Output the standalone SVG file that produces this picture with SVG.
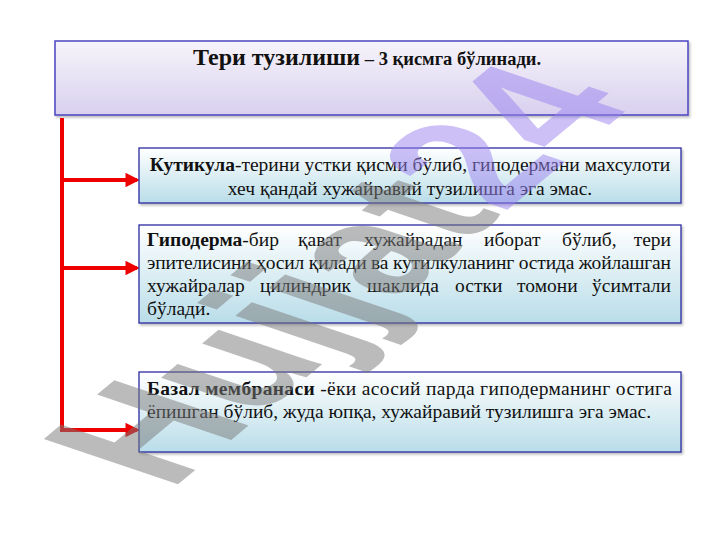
<svg xmlns="http://www.w3.org/2000/svg" width="720" height="540" viewBox="0 0 720 540">
  <defs>
    <linearGradient id="gHead" x1="0" y1="0" x2="0" y2="1">
      <stop offset="0" stop-color="#f7f4fb"/>
      <stop offset="1" stop-color="#d8d0ee"/>
    </linearGradient>
    <linearGradient id="gBox" x1="0" y1="0" x2="0" y2="1">
      <stop offset="0" stop-color="#ffffff"/>
      <stop offset="1" stop-color="#b9dde9"/>
    </linearGradient>
    <marker id="ah" viewBox="0 0 10 10" refX="8" refY="5" markerWidth="3.6" markerHeight="3.6" markerUnits="strokeWidth" orient="auto">
      <path d="M0,0 L10,5 L0,10 z" fill="#ee0000"/>
    </marker>
    <filter id="sh" x="-5%" y="-10%" width="110%" height="130%">
      <feDropShadow dx="1.5" dy="2" stdDeviation="1.2" flood-color="#000" flood-opacity="0.25"/>
    </filter>
  </defs>
  <style>
    .box { fill: url(#gBox); stroke: #2a2aa0; stroke-width: 1.3; filter: url(#sh); }
    .head { fill: url(#gHead); stroke: #4a44c0; stroke-width: 1.5; filter: url(#sh); }
    .t { font-family: "Liberation Serif", "Times New Roman", serif; font-size: 19.5px; fill: #111; }
    .b { font-weight: bold; }
    .conn { stroke: #ee0000; stroke-width: 4; fill: none; }
    .wm { font-family: "Liberation Sans", Arial, sans-serif; font-weight: bold; font-size: 100px; }
  </style>
  <rect width="720" height="540" fill="#ffffff"/>

  <g id="header">
    <rect class="head" x="55" y="41" width="633" height="74"/>
    <text x="367" y="65" text-anchor="middle" font-family="Liberation Serif, serif" font-weight="bold" fill="#111"><tspan font-size="24">Тери тузилиши</tspan><tspan font-size="18.5"> – 3 қисмга бўлинади.</tspan></text>
  </g>

  <g id="connectors">
    <path class="conn" d="M62,118 V432"/>
    <path class="conn" d="M60,180 H137" marker-end="url(#ah)"/>
    <path class="conn" d="M60,268 H137" marker-end="url(#ah)"/>
    <path class="conn" d="M60,430 H137" marker-end="url(#ah)"/>
  </g>

  <g id="kutikula">
    <rect class="box" x="139" y="148" width="542" height="55"/>
    <text class="t" x="410" y="171" text-anchor="middle"><tspan class="b">Кутикула</tspan>-терини устки қисми бўлиб, гиподермани махсулоти</text>
    <text class="t" x="410" y="195" text-anchor="middle">хеч қандай хужайравий тузилишга эга эмас.</text>
  </g>

  <g id="gipoderma">
    <rect class="box" x="139" y="225" width="542" height="98"/>
    <text class="t" y="246"><tspan x="147"><tspan class="b">Гиподерма</tspan>-бир</tspan><tspan x="298">қават</tspan><tspan x="364">хужайрадан</tspan><tspan x="484">иборат</tspan><tspan x="562">бўлиб,</tspan><tspan x="671" text-anchor="end">тери</tspan></text>
    <text class="t" x="147" y="269" textLength="524" lengthAdjust="spacing">эпителисини ҳосил қилади ва кутилкуланинг остида жойлашган</text>
    <text class="t" y="292"><tspan x="147">хужайралар</tspan><tspan x="260">цилиндрик</tspan><tspan x="367">шаклида</tspan><tspan x="455">остки</tspan><tspan x="517">томони</tspan><tspan x="671" text-anchor="end">ўсимтали</tspan></text>
    <text class="t" x="147" y="315">бўлади.</text>
  </g>

  <g id="bazal">
    <rect class="box" x="139" y="372" width="542" height="80"/>
    <text class="t" x="147" y="395" textLength="525" lengthAdjust="spacing"><tspan class="b">Базал мембранаси</tspan> -ёки асосий парда гиподерманинг остига</text>
    <text class="t" x="147" y="418">ёпишган бўлиб, жуда юпқа, хужайравий тузилишга эга эмас.</text>
  </g>

  <g id="watermark" opacity="0.5">
    <text class="wm" transform="matrix(1.2,-1.0,1.95,0.66,170,491)"><tspan fill="#7a7a7a">Hujjat</tspan><tspan fill="#9a82f0">24</tspan></text>
  </g>
</svg>
